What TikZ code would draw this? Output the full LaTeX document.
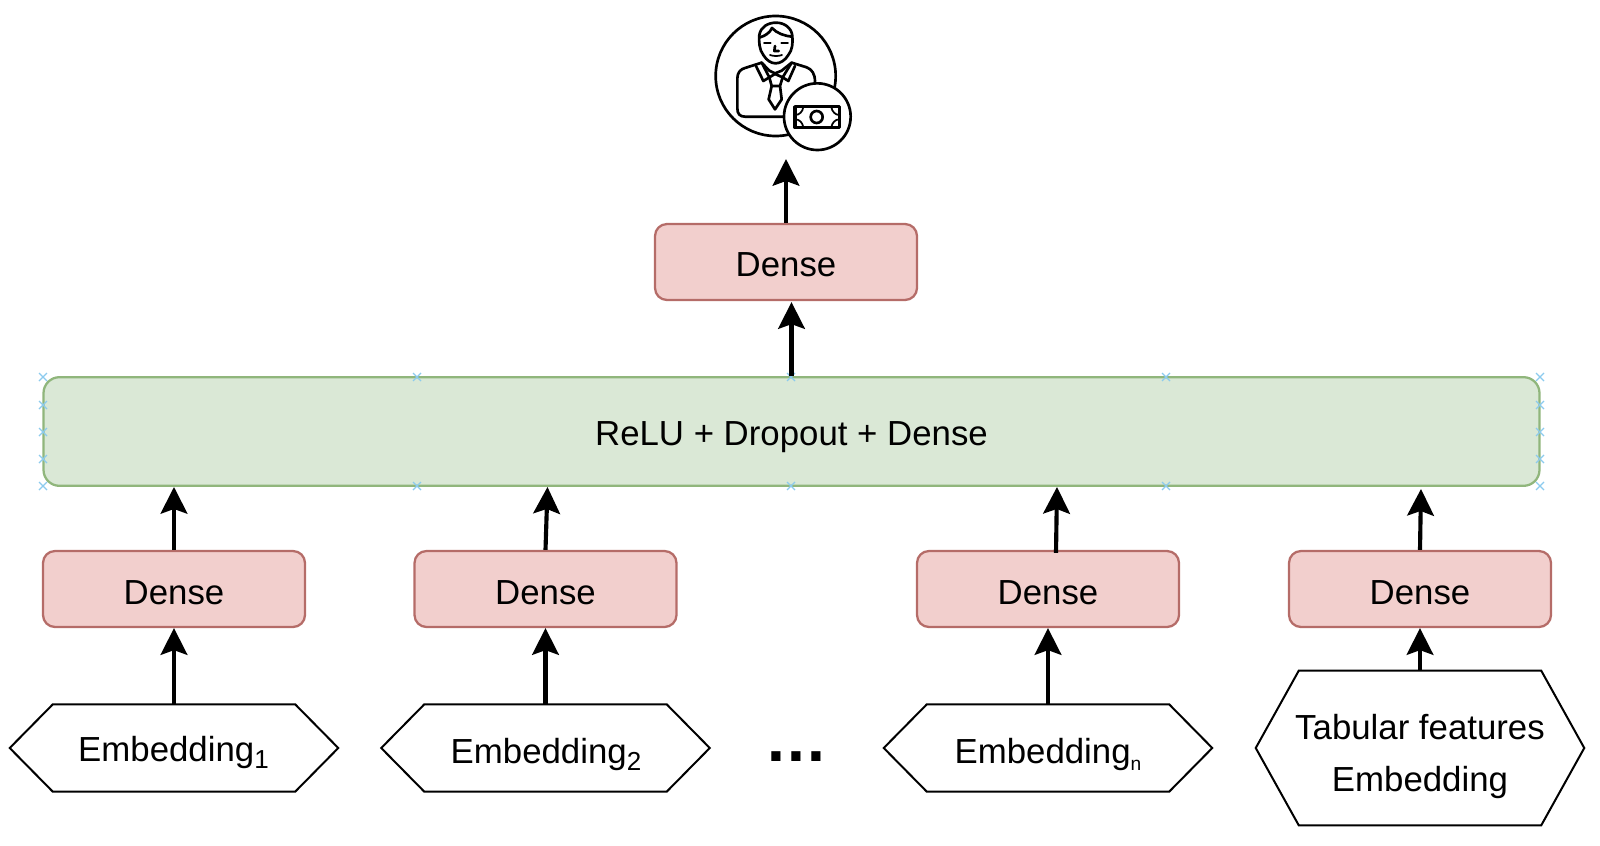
\documentclass[tikz,border=0pt]{standalone}
\usepackage{fontspec}
\setmainfont{Liberation Sans}
\newfontfamily\dotfont{DejaVu Sans}
\usetikzlibrary{arrows.meta,calc}
\definecolor{pinkfill}{HTML}{F2CFCD}
\definecolor{pinkline}{HTML}{B56C68}
\definecolor{greenfill}{HTML}{DAE8D6}
\definecolor{greenline}{HTML}{90B67C}
\definecolor{markblue}{HTML}{8CCBEE}
\tikzset{
  x=0.75pt,y=-0.75pt,
  labeltext/.style={font=\fontsize{26.1pt}{30pt}\selectfont,text=black,inner sep=0pt,align=center},
  densebox/.style={labeltext,draw=pinkline,fill=pinkfill,line width=1.7pt,rounded corners=9pt,minimum width=196.5pt,minimum height=57pt,text height=23.2pt,text depth=0pt},
  greenbox/.style={labeltext,draw=greenline,fill=greenfill,line width=1.7pt,rounded corners=12pt,minimum width=1122pt,minimum height=81.5pt,text height=21.4pt,text depth=0pt},
  hexbox/.style={labeltext,minimum width=246pt,minimum height=65pt},
  hexline/.style={draw=black,line width=1.5pt,fill=white,line join=miter},
  arr/.style={draw=black,line width=3.1pt,-{Stealth[length=20pt,width=20pt,inset=3.5pt]}},
  iconline/.style={draw=black,line width=2pt,line join=round,line cap=round},
  iconthin/.style={draw=black,line width=1.3pt,line join=round,line cap=round},
  bm/.style={draw=markblue,line width=0.9pt},
}
\newcommand{\hexshape}[2]{%
  \draw[hexline] ($(#1.north west)+(#2,0)$) -- ($(#1.north east)+(-#2,0)$) -- (#1.east) -- ($(#1.south east)+(-#2,0)$) -- ($(#1.south west)+(#2,0)$) -- (#1.west) -- cycle;}
\newcommand{\xm}[2]{\draw[bm] (#1-4,#2-4) -- (#1+4,#2+4) (#1-4,#2+4) -- (#1+4,#2-4);}
\newcommand{\lowsub}[2]{\raisebox{-5.4pt}{\fontsize{#1}{#1}\selectfont #2}}
\begin{document}
\begin{tikzpicture}
\useasboundingbox (0,0) rectangle (1600,846);
% hexagon holders
\node[hexbox] (h1) at (174,748) {};
\node[hexbox] (h2) at (545.5,748) {};
\node[hexbox] (h3) at (1048,748) {};
\node[hexbox,minimum height=115.5pt] (h4) at (1420,748) {};
\hexshape{h1}{43}
\hexshape{h2}{43}
\hexshape{h3}{43}
\hexshape{h4}{43}
\node[labeltext,anchor=base] (t1) at (173.5,761) {Embedding\lowsub{19.5pt}{1}};
\node[labeltext,anchor=base] (t2) at (546,763) {Embedding\lowsub{19.5pt}{2}};
\node[labeltext,anchor=base] (t3) at (1048,763) {Embedding\lowsub{14.4pt}{n}};
\node[labeltext,anchor=base] (t4a) at (1420,739) {Tabular features};
\node[labeltext,anchor=base] (t4b) at (1420,791) {Embedding};
\node[labeltext,font=\dotfont\bfseries\fontsize{39pt}{42pt}\selectfont,anchor=base] (dots) at (796.5,761) {...};
% boxes
\node[densebox] (d1) at (174,589) {Dense};
\node[densebox] (d2) at (545.5,589) {Dense};
\node[densebox] (d3) at (1048,589) {Dense};
\node[densebox] (d4) at (1420,589) {Dense};
\node[densebox,text height=22pt] (d5) at (786,262) {Dense};
\node[greenbox] (g) at (791.5,431.5) {ReLU + Dropout + Dense};
% markers
\foreach \p in {43,417,791,1166,1540}{\xm{\p}{377}\xm{\p}{486}}
\foreach \q in {405,432,459}{\xm{43}{\q}\xm{1540}{\q}}
% connectors
\draw[arr] (h1.north) -- (d1.south);
\draw[arr] (h2.north) -- (d2.south);
\draw[arr] (h3.north) -- (d3.south);
\draw[arr] (h4.north) -- (d4.south);
\draw[arr] (d1.north) -- (d1.north |- g.south);
\draw[arr] (d2.north) -- ($(d2.north |- g.south)+(2,0)$);
\draw[arr] ($(d3.north)+(8,3)$) -- ($(d3.north |- g.south)+(9,0)$);
\draw[arr] (d4.north) -- ($(d4.north |- g.south)+(1,2)$);
\draw[arr] (g.north) -- ($(d5.south)+(5.5,1)$);
\coordinate (ic) at (786,159);
\draw[arr] (d5.north) -- (ic);
% icon: coordinates in thirds of a pixel, from (680,0)
\begin{scope}[shift={(680,0)},x=0.25pt,y=-0.25pt]
\draw[iconline] (287,228) circle (180);
% body
\draw[iconline] (310,350) -- (195,350) .. controls (180,350) and (172,342) .. (172,325) -- (172,235) .. controls (172,218) and (182,207) .. (195,204) -- (245,188);
\draw[iconline] (335,188) -- (380,202) .. controls (396,208) and (405,222) .. (405,245);
% collar and tie
\draw[iconline] (228,198) -- (250,243) -- (268,232) -- (245,188);
\draw[iconline] (345,198) -- (325,243) -- (308,232) -- (335,188);
\draw[iconline] (245,188) -- (268,212) -- (285,220) -- (305,212) -- (335,188);
\draw[iconline] (268,232) -- (285,222) -- (308,232) -- (300,258) -- (275,258) -- cycle;
\draw[iconline] (275,258) -- (266,298) -- (285,328) -- (305,298) -- (300,258);
% head
\draw[iconline] (250,165) .. controls (238,150) and (236,125) .. (238,105) .. controls (242,80) and (265,68) .. (288,68) .. controls (315,68) and (335,85) .. (337,108) .. controls (339,130) and (337,150) .. (325,165) .. controls (315,182) and (300,190) .. (287,190) .. controls (274,190) and (260,182) .. (250,165) -- cycle;
\draw[iconline] (240,112) .. controls (255,108) and (270,98) .. (276,84) .. controls (290,100) and (315,108) .. (335,110);
% face
\draw[iconthin] (252,130) -- (272,130) (304,130) -- (324,130);
\draw[iconline] (285,138) -- (283,153) -- (296,153);
\draw[iconthin] (270,165) .. controls (280,169) and (296,169) .. (306,165);
% money
\draw[iconline,fill=white] (412,350) circle (100);
\draw[iconline,line width=2.4pt] (345,320) rectangle (479,383);
\draw[iconline] (410,351) circle (18);
\draw[iconthin] (346,345) .. controls (358,345) and (368,335) .. (370,321);
\draw[iconthin] (346,358) .. controls (358,358) and (368,368) .. (370,382);
\draw[iconthin] (478,345) .. controls (466,345) and (456,335) .. (454,321);
\draw[iconthin] (478,358) .. controls (466,358) and (456,368) .. (454,382);
\end{scope}
\end{tikzpicture}
\end{document}
